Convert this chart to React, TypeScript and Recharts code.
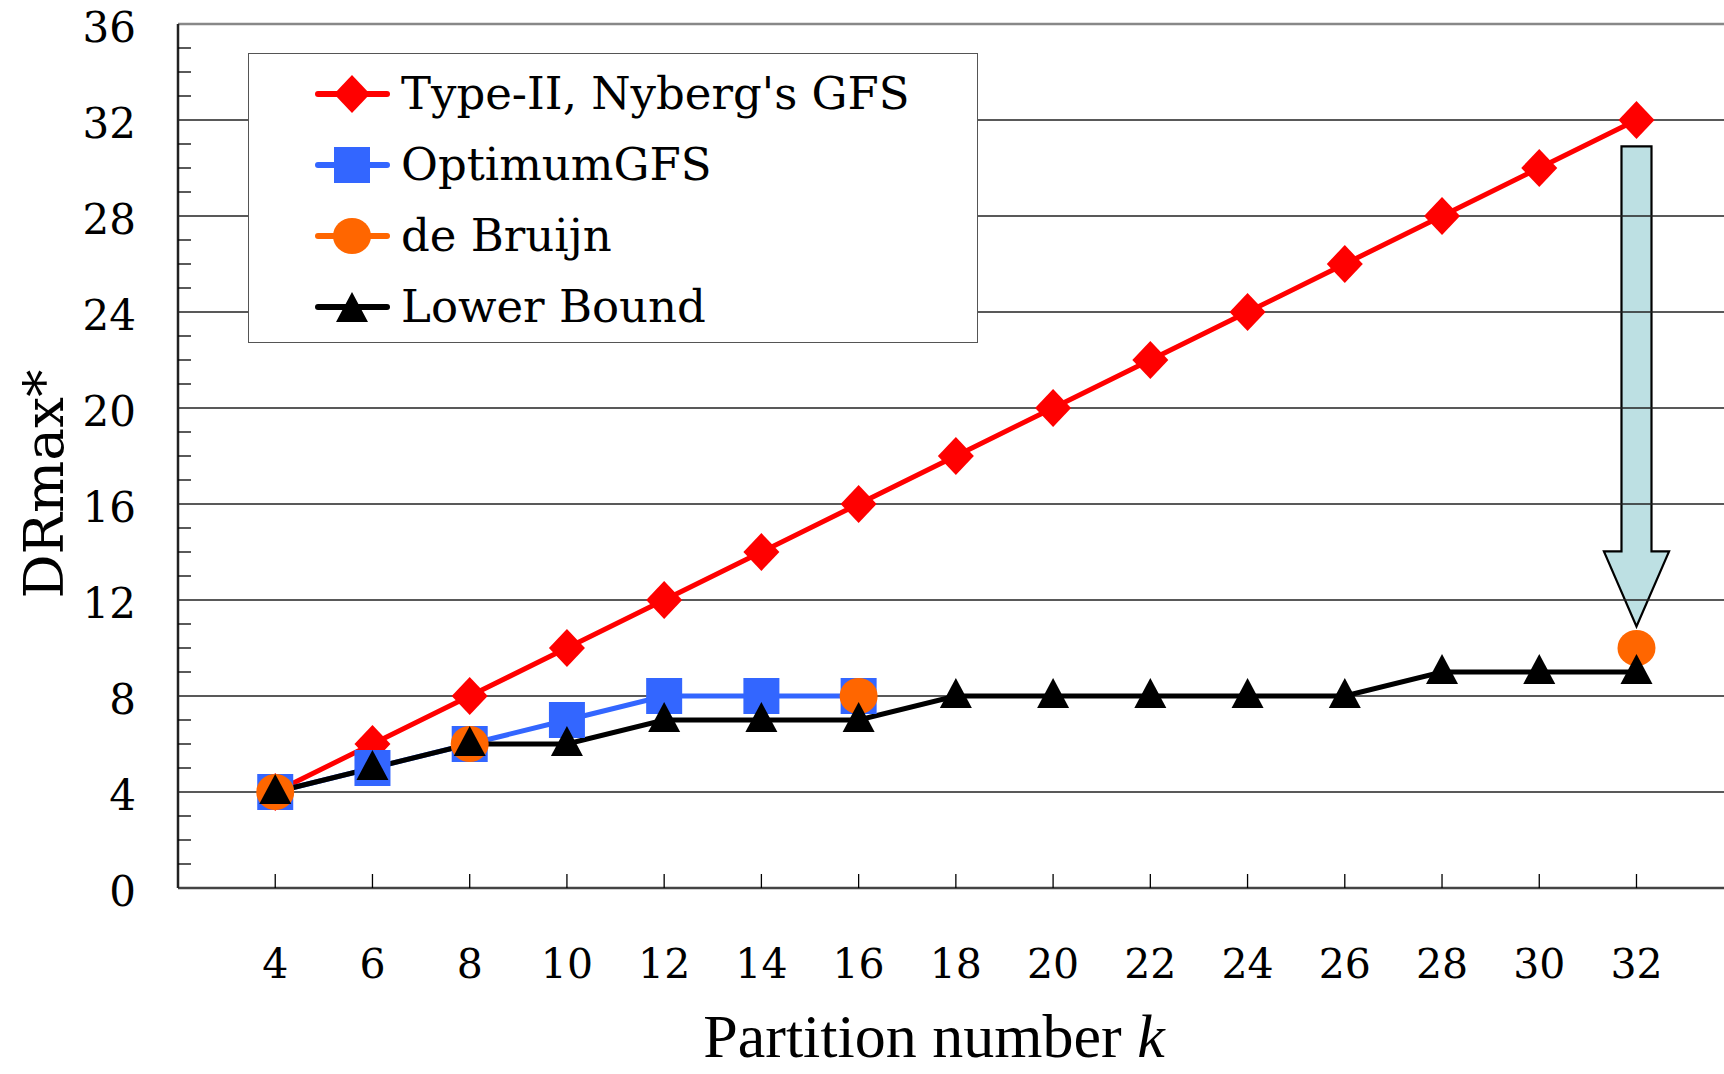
import React from 'react'
import {
  LineChart,
  Line,
  XAxis,
  YAxis,
  ReferenceLine,
  ReferenceArea,
  Legend,
} from 'recharts'

const partitions = [4, 6, 8, 10, 12, 14, 16, 18, 20, 22, 24, 26, 28, 30, 32]
const typeII = [4, 6, 8, 10, 12, 14, 16, 18, 20, 22, 24, 26, 28, 30, 32]
const optimumGFS = [4, 5, 6, 7, 8, 8, 8, null, null, null, null, null, null, null, null]
const deBruijn = [4, null, 6, null, null, null, 8, null, null, null, null, null, null, null, 10]
const lowerBound = [4, 5, 6, 6, 7, 7, 7, 8, 8, 8, 8, 8, 9, 9, 9]
const yTicks = Array.from({ length: 37 }, (_, i) => i)
const yMajor = [0, 4, 8, 12, 16, 20, 24, 28, 32, 36]

const rows = partitions.map((k, i) => ({
  k,
  typeII: typeII[i],
  optimum: optimumGFS[i],
  bruijn: deBruijn[i],
  lower: lowerBound[i],
}))

const FONT = '"DejaVu Serif", serif'
const RED = '#ff0000'
const BLUE = '#3366ff'
const ORANGE = '#ff6600'

const series = [
  { key: 'typeII', name: "Type-II, Nyberg's GFS", color: RED, shape: 'diamond' },
  { key: 'optimum', name: 'OptimumGFS', color: BLUE, shape: 'square' },
  { key: 'bruijn', name: 'de Bruijn', color: ORANGE, shape: 'circle' },
  { key: 'lower', name: 'Lower Bound', color: '#000', shape: 'triangle' },
]

function Marker({ shape, cx, cy, color }: any) {
  if (cx == null || cy == null) return null
  if (shape === 'diamond')
    return <polygon points={`${cx},${cy - 19} ${cx + 18},${cy} ${cx},${cy + 19} ${cx - 18},${cy}`} fill={color} />
  if (shape === 'square') return <rect x={cx - 18} y={cy - 18} width={36} height={36} fill={color} />
  if (shape === 'circle') return <ellipse cx={cx} cy={cy} rx={19} ry={18} fill={color} />
  return <polygon points={`${cx},${cy - 18} ${cx + 16},${cy + 12} ${cx - 16},${cy + 12}`} fill={color} />
}

const dotFor = (shape: string, color: string) => (p: any) =>
  p.value == null ? <g key={p.index} /> : <Marker key={p.index} shape={shape} cx={p.cx} cy={p.cy} color={color} />

function XTick({ x, y, payload }: any) {
  return (
    <g>
      <line x1={x} y1={y} x2={x} y2={y - 14} stroke="#000" strokeWidth={1.3} />
      <text x={x} y={y + 76} textAnchor="middle" dominantBaseline="central" fontFamily={FONT} fontSize={41} fill="#000">
        {payload.value}
      </text>
    </g>
  )
}

function YTick({ x, y, payload }: any) {
  const major = payload.value % 4 === 0
  return (
    <g>
      {!major && <line x1={x} y1={y} x2={x + 13} y2={y} stroke="#000" strokeWidth={1.3} />}
      {major && (
        <text x={x - 42} y={y + 3} textAnchor="end" dominantBaseline="central" fontFamily={FONT} fontSize={42} fill="#000">
          {payload.value}
        </text>
      )}
    </g>
  )
}

function Arrow({ x, y, width, height }: any) {
  const cx = x + width / 2
  const shaft = 15
  const headTop = y + height - 75
  const tip = y + height
  const pts = [
    [cx - shaft, y],
    [cx + shaft, y],
    [cx + shaft, headTop],
    [x + width, headTop],
    [cx, tip],
    [x, headTop],
    [cx - shaft, headTop],
  ]
  return <polygon points={pts.map((p) => p.join(',')).join(' ')} fill="#bde0e3" stroke="#000" strokeWidth={2.2} />
}

function LegendBox() {
  return (
    <div
      style={{
        width: 730,
        height: 290,
        border: '1.5px solid #555',
        background: '#fff',
        boxSizing: 'border-box',
        paddingTop: 4,
      }}
    >
      {series.map((s) => (
        <div key={s.key} style={{ display: 'flex', alignItems: 'center', height: 71 }}>
          <svg width={150} height={60} style={{ flex: 'none' }}>
            <line x1={69} y1={30} x2={138} y2={30} stroke={s.color} strokeWidth={6} strokeLinecap="round" />
            <Marker shape={s.shape} cx={103} cy={s.shape === 'triangle' ? 33 : 30} color={s.color} />
          </svg>
          <span style={{ fontFamily: FONT, fontSize: 45, color: '#000', marginLeft: 2, whiteSpace: 'nowrap' }}>
            {s.name}
          </span>
        </div>
      ))}
    </div>
  )
}

export default function App() {
  return (
    <div style={{ position: 'absolute', left: 0, top: 0, width: 1724, height: 1074, background: '#fff' }}>
      <LineChart width={1724} height={1074} data={rows} margin={{ top: 24, right: 0, bottom: 0, left: 0 }}>
        <XAxis
          dataKey="k"
          type="number"
          domain={[2, 33.8]}
          ticks={partitions}
          allowDataOverflow
          height={186}
          tickLine={false}
          tickSize={0}
          tickMargin={0}
          axisLine={{ stroke: '#444', strokeWidth: 2.5 }}
          tick={<XTick />}
          interval={0}
        />
        <YAxis
          type="number"
          domain={[0, 36]}
          ticks={yTicks}
          width={178}
          tickLine={false}
          tickSize={0}
          tickMargin={0}
          axisLine={{ stroke: '#222', strokeWidth: 2.5 }}
          tick={<YTick />}
          interval={0}
        />
        {yMajor.slice(1).map((v) => (
          <ReferenceLine key={v} y={v} stroke={v === 36 ? '#888' : '#222'} strokeWidth={v === 36 ? 2.5 : 1.3} />
        ))}
        <ReferenceArea x1={31.33} x2={32.67} y1={10.9} y2={30.9} shape={<Arrow />} ifOverflow="visible" />
        <Line
          dataKey="typeII"
          stroke={RED}
          strokeWidth={5}
          dot={dotFor('diamond', RED)}
          isAnimationActive={false}
        />
        <Line
          dataKey="optimum"
          stroke={BLUE}
          strokeWidth={5}
          dot={dotFor('square', BLUE)}
          isAnimationActive={false}
        />
        <Line
          dataKey="bruijn"
          stroke="none"
          dot={dotFor('circle', ORANGE)}
          isAnimationActive={false}
        />
        <Line
          dataKey="lower"
          stroke="#000"
          strokeWidth={5}
          dot={dotFor('triangle', '#000')}
          isAnimationActive={false}
        />
        <Legend
          layout="horizontal"
          verticalAlign="middle"
          align="center"
          content={<LegendBox />}
          wrapperStyle={{ position: 'absolute', left: 248, top: 53, width: 730, height: 290 }}
        />
        <text x={44} y={484} transform="rotate(-90 44 484)" textAnchor="middle" dominantBaseline="central" fontFamily={FONT} fontSize={55} fill="#000">
          DRmax*
        </text>
        <text x={934} y={1036} textAnchor="middle" dominantBaseline="central" fontFamily='"Liberation Serif", serif' fontSize={62} fill="#000">
          Partition number <tspan fontStyle="italic">k</tspan>
        </text>
      </LineChart>
    </div>
  )
}
